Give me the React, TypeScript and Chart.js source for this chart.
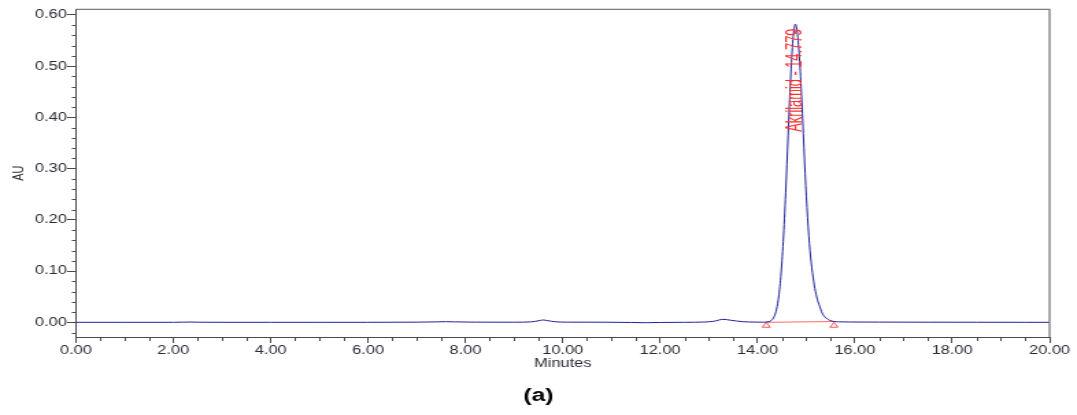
import React, { useEffect, useRef } from 'react';
import { Chart, registerables } from 'chart.js';

Chart.register(...registerables);

// ---- data (minutes, AU) ----
const times = [
  0, 1, 2, 2.2, 2.35, 2.5, 3, 4, 5, 6, 7, 7.4, 7.6, 7.8, 8.2, 9, 9.35, 9.5, 9.6, 9.7,
  9.85, 10.1, 10.8, 11.4, 11.7, 12.0, 12.5, 12.9, 13.1, 13.3, 13.45, 13.7, 13.95, 14.1,
  14.229, 14.279, 14.329, 14.379, 14.429, 14.479, 14.529, 14.579, 14.629, 14.679, 14.729,
  14.779, 14.829, 14.879, 14.929, 14.979, 15.029, 15.079, 15.129, 15.179, 15.229, 15.279,
  15.329, 15.379, 15.479, 15.579, 15.679, 15.9, 16.5, 17.5, 18.5, 19.5, 20,
];
const signal = [
  0, 0, 0, 0.0003, 0.0005, 0.0002, 0, 0, 0, 0, 0.0003, 0.0008, 0.0012, 0.0008, 0.0003, 0.0002, 0.0008, 0.003, 0.0045, 0.003,
  0.001, 0.0003, 0.0002, -0.0003, -0.0008, -0.0003, 0, 0.0005, 0.002, 0.0058, 0.004, 0.0012, 0.0004, 0.0003,
  0.0012, 0.0032, 0.0086, 0.021, 0.045, 0.089, 0.158, 0.253, 0.364, 0.473, 0.552,
  0.582, 0.556, 0.49, 0.395, 0.29, 0.205, 0.14, 0.097, 0.066, 0.045, 0.031,
  0.018, 0.011, 0.004, 0.0015, 0.0009, 0.0006, 0.0004, 0.0002, 0.0001, 0, 0,
];

// integration baseline (red) and its start/end markers
const baselineTimes = [14.18, 15.57];
const baselineValues = [0.0, 0.0015];
const markerValues = [-0.0065, -0.0065];

// peak annotation
const peakName = 'Akrilamid';
const peakTime = 14.779;
const peakLabelStart = 0.372;

// axes
const xMin = 0;
const xMax = 20;
const xMajorStep = 2;
const xMinorStep = 0.5;
const yMin = -0.0287;
const yMax = 0.6111;
const yMajorStep = 0.1;
const yMinorStep = 0.02;

const xTitle = 'Minutes';
const yTitle = 'AU';
const caption = '(a)';

const FONT = "'Liberation Sans', Arial, Helvetica, sans-serif";
const AXIS = '#4a4a4a';
const FRAME = '#7a7a7a';
const TXT = '#2c2c36';
const LINE = '#20209a';
const RED = '#ff3030';

const INTERNAL_W = 786;
const H = 415;

export default function App() {
  const ref = useRef<HTMLCanvasElement>(null);

  useEffect(() => {
    const canvas = ref.current;
    if (!canvas) return;

    const decor = {
      id: 'decor',
      afterDatasetsDraw(chart: any) {
        const { ctx, scales } = chart;
        const x = scales.x;
        const y = scales.y;
        const px = x.getPixelForValue(peakTime);
        const py = y.getPixelForValue(peakLabelStart);
        ctx.save();
        ctx.translate(px, py);
        ctx.rotate(-Math.PI / 2);
        ctx.scale(0.8, 1);
        ctx.font = `16px ${FONT}`;
        ctx.fillStyle = RED;
        ctx.textAlign = 'left';
        ctx.textBaseline = 'middle';
        ctx.fillText(`${peakName} - ${peakTime.toFixed(3)}`, 0, 0);
        ctx.restore();
      },
      afterDraw(chart: any) {
        const { ctx, chartArea, scales } = chart;
        const x = scales.x;
        const y = scales.y;
        ctx.save();
        // frame top + right
        ctx.strokeStyle = FRAME;
        ctx.lineWidth = 1.3;
        ctx.beginPath();
        ctx.moveTo(chartArea.left, chartArea.top);
        ctx.lineTo(chartArea.right, chartArea.top);
        ctx.lineTo(chartArea.right, chartArea.bottom);
        ctx.stroke();
        // minor ticks
        ctx.strokeStyle = AXIS;
        ctx.lineWidth = 1;
        ctx.beginPath();
        const nx = Math.round((xMax - xMin) / xMinorStep);
        for (let i = 0; i <= nx; i++) {
          const v = xMin + i * xMinorStep;
          if (Math.abs(v / xMajorStep - Math.round(v / xMajorStep)) < 1e-6) continue;
          const p = Math.round(x.getPixelForValue(v)) + 0.5;
          ctx.moveTo(p, chartArea.bottom);
          ctx.lineTo(p, chartArea.bottom + 4);
        }
        const start = Math.ceil(yMin / yMinorStep);
        const end = Math.floor(yMax / yMinorStep);
        for (let i = start; i <= end; i++) {
          const v = i * yMinorStep;
          if (Math.abs(v / yMajorStep - Math.round(v / yMajorStep)) < 1e-6) continue;
          const p = Math.round(y.getPixelForValue(v)) + 0.5;
          ctx.moveTo(chartArea.left - 3, p);
          ctx.lineTo(chartArea.left, p);
        }
        ctx.stroke();
        // caption
        ctx.fillStyle = '#000';
        ctx.font = `bold 18px ${FONT}`;
        ctx.textAlign = 'center';
        ctx.textBaseline = 'middle';
        ctx.fillText(caption, chart.width / 2, 396.5);
        ctx.restore();
      },
    };

    const chart = new Chart(canvas, {
      type: 'line',
      data: {
        datasets: [
          {
            data: times.map((t, i) => ({ x: t, y: signal[i] })),
            borderColor: LINE,
            borderWidth: 1,
            pointRadius: 0,
            cubicInterpolationMode: 'monotone',
            fill: false,
            order: 0,
          },
          {
            data: baselineTimes.map((t, i) => ({ x: t, y: baselineValues[i] })),
            borderColor: 'rgba(255,80,80,0.85)',
            borderWidth: 1,
            pointRadius: 0,
            fill: false,
            order: 1,
          },
          {
            data: baselineTimes.map((t, i) => ({ x: t, y: markerValues[i] })),
            showLine: false,
            pointStyle: 'triangle',
            pointRadius: 3.3,
            pointBorderWidth: 1,
            pointBorderColor: 'rgba(255,70,70,0.9)',
            pointBackgroundColor: 'rgba(255,255,255,0)',
            borderColor: 'rgba(255,70,70,0.9)',
            order: 2,
          },
        ],
      } as any,
      options: {
        animation: false,
        responsive: false,
        events: [],
        layout: { padding: { left: 0, right: 20, top: 9.3, bottom: 0 } },
        plugins: {
          legend: { display: false },
          tooltip: { enabled: false },
          title: { display: false },
        },
        scales: {
          x: {
            type: 'linear',
            position: 'bottom',
            min: xMin,
            max: xMax,
            afterFit: (s: any) => {
              s.height = 78;
            },
            border: { display: true, color: AXIS, width: 1 },
            grid: { drawOnChartArea: false, drawTicks: true, tickLength: 6, tickColor: AXIS, tickWidth: 1 },
            ticks: {
              stepSize: xMajorStep,
              autoSkip: false,
              maxRotation: 0,
              minRotation: 0,
              padding: 0,
              includeBounds: false,
              color: TXT,
              font: { family: FONT, size: 12 },
              callback: (v: any) => Number(v).toFixed(2),
            },
            title: {
              display: true,
              text: xTitle,
              color: TXT,
              font: { family: FONT, size: 12 },
              padding: { top: 0, bottom: 43.8 },
            },
          },
          y: {
            type: 'linear',
            min: yMin,
            max: yMax,
            afterFit: (s: any) => {
              s.width = 55.46;
            },
            border: { display: true, color: AXIS, width: 1 },
            grid: { drawOnChartArea: false, drawTicks: true, tickLength: 6.5, tickColor: AXIS, tickWidth: 1 },
            ticks: {
              stepSize: yMajorStep,
              includeBounds: false,
              padding: 0,
              color: TXT,
              font: { family: FONT, size: 12 },
              callback: (v: any) => Number(v).toFixed(2),
            },
            title: {
              display: true,
              text: yTitle,
              color: TXT,
              font: { family: FONT, size: 11 },
              padding: { top: 7.6, bottom: 0 },
            },
          },
        },
      } as any,
      plugins: [decor],
    });

    return () => chart.destroy();
  }, []);

  return (
    <canvas
      ref={ref}
      width={INTERNAL_W}
      height={H}
      style={{ position: 'absolute', left: 0, top: 0, width: '1077px', height: `${H}px`, display: 'block', background: '#fff' }}
    />
  );
}
